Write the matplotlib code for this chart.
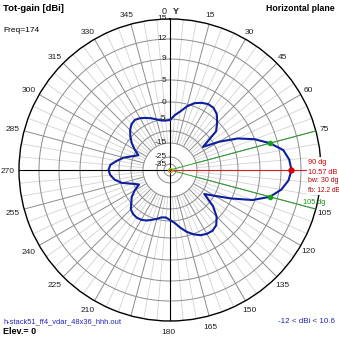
import numpy as np
import matplotlib
matplotlib.use('Agg')
import matplotlib.pyplot as plt
from matplotlib.patches import Rectangle

# horizontal pattern, tot-gain [dBi] every 5 deg of azimuth
azimuth = list(range(0, 360, 5))
gain = [-5.4, -3.8, -2.5, -0.6, 0.7, 1.4, 1.85, 1.8, 1.1, -0.4,
        -2.3, -9.5, -3.4, 1.5, 5.0, 7.57, 9.6, 10.3, 10.57, 10.2,
        9.3, 7.57, 4.5, -0.2, -4.8, -8.8, -3.5, -0.6, 0.9, 1.4,
        1.3, 0.9, 0.1, -1.2, -2.8, -4.4, -5.4, -6.4, -6.2, -5.2,
        -4.4, -3.6, -3.1, -2.9, -3.1, -3.7, -5.2, -6.8, -9.3, -12.0,
        -9.5, -5.5, -3.5, -2.4, -1.9, -2.4, -4.2, -6.3, -9.5, -11.7,
        -9.3, -6.8, -4.8, -3.4, -2.4, -2.0, -2.4, -3.1, -3.8, -4.6,
        -5.3, -5.6]

max_dir = 90
max_gain = 10.57
bw_dirs = [75, 105]
bw_gain = 7.57

ring_vals = [-35, -25, -15, -10, -5, 0, 5, 9, 12, 15]
ring_labels = ['-35', '-25', '-15', '', '-5', '0', '5', '9', '12', '15']
angle_labels = [0, 15, 30, 45, 60, 75, 105, 120, 135, 150, 165, 180,
                210, 225, 240, 255, 270, 285, 300, 315, 330, 345]

# 4nec2 style log-ish radial scale (dB -> fraction of radius)
scale_db = [-45, -35, -25, -15, -10, -5, 0, 5, 9, 12, 15]
scale_fr = np.array([0, 6, 13, 27, 39, 51, 68, 90, 111, 131, 151]) / 151.0


def fwd(g):
    return np.interp(g, scale_db, scale_fr)


def inv(r):
    return np.interp(r, scale_fr, scale_db)


plt.rcParams['font.family'] = ['Liberation Sans', 'DejaVu Sans']

fig = plt.figure(figsize=(3.39, 3.39), dpi=100)
ax = fig.add_axes([19/339, 18/339, 302/339, 302/339], projection='polar')
ax.set_theta_zero_location('N')
ax.set_theta_direction(-1)
ax.set_rscale('function', functions=(fwd, inv))
ax.set_rlim(-45, 15)
ax.grid(False)
ax.set_xticks([])
ax.set_yticks([])
ax.spines['polar'].set_color('black')
ax.spines['polar'].set_linewidth(1.0)

rmin, rmax = -45, 15
circ = np.radians(np.arange(0, 361, 1))

# rings
for v in ring_vals[:-1]:
    ax.plot(circ, [v]*len(circ), color='#8c8c8c', lw=0.7, zorder=1)

# spokes
for a in range(0, 360, 5):
    t = np.radians(a)
    if a % 90 == 0:
        ax.plot([t, t], [rmin, rmax], color='black', lw=0.8, zorder=2)
    elif a % 15 == 0:
        ax.plot([t, t], [-15, rmax], color='#8c8c8c', lw=0.7, zorder=1)
    else:
        ax.plot([t, t], [-15, rmax], color='#d2d2d2', lw=0.6, zorder=0.9)

# ring labels on the vertical axis
for v, lab in zip(ring_vals, ring_labels):
    if lab:
        ax.annotate(lab, xy=(0, v), xytext=(-2.5, 0), textcoords='offset points',
                    ha='right', va='center', fontsize=6, color='#202020', zorder=6)

# angle labels round the circle
rl = 161 / 302
for a in angle_labels:
    t = np.radians(a)
    x = 0.5 + rl*np.sin(t) - 1.5/302
    y = 0.5 + rl*np.cos(t) - 1.5/302
    if a == 0:
        ax.text(0.5 - 3/302, 1.0 + 7/302, '0', transform=ax.transAxes,
                ha='right', va='center', fontsize=6.5, color='#202020')
        ax.text(0.5 + 3/302, 1.0 + 7/302, 'Y', transform=ax.transAxes,
                ha='left', va='center', fontsize=6.5, color='#202020', weight='bold')
        continue
    ax.text(x, y, str(a), transform=ax.transAxes, ha='center', va='center',
            fontsize=6, color='#202020')

# pattern
th = np.radians(azimuth + [azimuth[0]])
ax.plot(th, gain + [gain[0]], color='#0c1f9c', lw=1.5, zorder=4)

# beamwidth / max lines
for d in bw_dirs:
    ax.plot([np.radians(d), np.radians(d)], [rmin, rmax], color='#2ca02c', lw=0.7, zorder=3)
ax.plot([np.radians(max_dir)]*2, [rmin, rmax], color='#e02020', lw=0.7, zorder=3)
ax.plot(np.radians(bw_dirs), [bw_gain]*2, 'o', color='#16a016', ms=3, zorder=5)
ax.plot([np.radians(max_dir)], [max_gain], 'o', color='#e00000', ms=3.5, zorder=5)
ax.plot([0], [rmin], 'o', color='#b8a000', ms=3, mfc='none', mew=0.8, zorder=5)

# white patch behind the annotation block
fig.add_artist(Rectangle((307/339, 1 - 195/339), 32/339, 38/339,
                         transform=fig.transFigure, facecolor='white',
                         edgecolor='none', zorder=5))


def ftext(x, y, s, **kw):
    kw.setdefault('zorder', 6)
    fig.text(x/339, 1 - y/339, s, **kw)


ftext(308, 163, '90 dg', fontsize=5.3, color='#d40000', va='center')
ftext(308, 172, '10.57 dB', fontsize=5.3, color='#d40000', va='center')
ftext(308, 181, 'bw: 30 dg', fontsize=5.0, color='#b00000', va='center')
ftext(308, 190, 'fb: 12.2 dB', fontsize=4.8, color='#b00000', va='center')
ftext(303, 202, '105 dg', fontsize=5.3, color='#139013', va='center')

ftext(3, 8.5, 'Tot-gain [dBi]', fontsize=6.8, weight='bold', va='center')
ftext(335, 8.5, 'Horizontal plane', fontsize=6.3, weight='bold', va='center', ha='right')
ftext(3, 31, 'Freq=174', fontsize=6, va='center')
ftext(3, 321.5, 'h-stack51_ff4_vdar_48x36_hhh.out', fontsize=5.4, color='#2222bb', va='center')
ftext(3, 331.5, 'Elev.= 0', fontsize=6.5, weight='bold', va='center')
ftext(335, 321.5, '-12 < dBi < 10.6', fontsize=5.8, color='#2222bb', va='center', ha='right')

fig.savefig('out.png', dpi=100, facecolor='white')
